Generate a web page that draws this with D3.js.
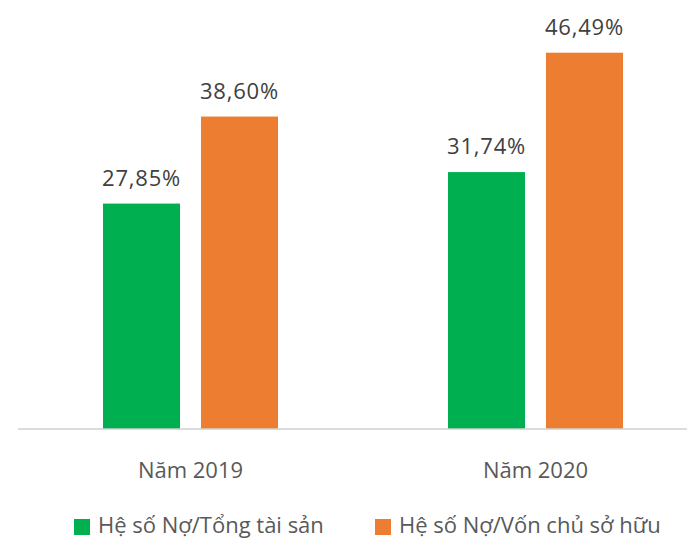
<!DOCTYPE html>
<html>
<head>
<meta charset="utf-8">
<script src="https://cdn.jsdelivr.net/npm/d3@7"></script>
<style>
  body { margin: 0; background: #fff; }
  text { font-family: "Open Sans", sans-serif; }
</style>
</head>
<body>
<script>
const years = ['Năm 2019', 'Năm 2020']
const series = ['Hệ số Nợ/Tổng tài sản', 'Hệ số Nợ/Vốn chủ sở hữu']
const debtToAssets = [27.85, 31.74]
const debtToEquity = [38.60, 46.49]
const colors = ['#00B050', '#ED7D31']

const width = 687, height = 540
const baseY = 429

const svg = d3.select('body')
  .append('svg')
  .attr('width', width)
  .attr('height', height)

const x0 = d3.scaleBand().domain(years).range([18, 708])
const x1 = d3.scaleBand().domain(series).range([0, 175]).paddingInner(0.214)
const y = d3.scaleLinear().domain([0, 53]).range([baseY, 0])
const color = d3.scaleOrdinal().domain(series).range(colors)

const rows = years.map((yr, i) => ({
  year: yr,
  values: [
    {key: series[0], value: debtToAssets[i]},
    {key: series[1], value: debtToEquity[i]}
  ]
}))

const fmt = v => v.toFixed(2).replace('.', ',') + '%'

const groups = svg.selectAll('.group')
  .data(rows)
  .enter().append('g')
    .attr('class', 'group')
    .attr('transform', d => 'translate(' + (x0(d.year) + x0.bandwidth() / 2 - 87.5) + ',0)')

groups.selectAll('rect')
  .data(d => d.values)
  .enter().append('rect')
    .attr('x', d => x1(d.key))
    .attr('y', d => y(d.value))
    .attr('width', x1.bandwidth())
    .attr('height', d => baseY - y(d.value))
    .attr('fill', d => color(d.key))

groups.selectAll('.label')
  .data(d => d.values)
  .enter().append('text')
    .attr('class', 'label')
    .attr('x', d => x1(d.key) + x1.bandwidth() / 2)
    .attr('y', d => y(d.value) - 18)
    .attr('text-anchor', 'middle')
    .attr('font-size', 22)
    .attr('letter-spacing', 0.8)
    .attr('fill', '#404040')
    .text(d => fmt(d.value))

// axis line along zero
svg.append('line')
  .attr('x1', 18).attr('x2', width)
  .attr('y1', y(0)).attr('y2', y(0))
  .attr('stroke', '#d0d0d0')
  .attr('stroke-width', 1.5)

svg.selectAll('.cat')
  .data(years)
  .enter().append('text')
    .attr('class', 'cat')
    .attr('x', d => x0(d) + x0.bandwidth() / 2)
    .attr('y', 478)
    .attr('text-anchor', 'middle')
    .attr('font-size', 22)
    .attr('fill', '#595959')
    .text(d => d)

const legendX = [74, 375]
const legend = svg.selectAll('.legend')
  .data(series)
  .enter().append('g')
    .attr('class', 'legend')
    .attr('transform', (d, i) => 'translate(' + legendX[i] + ',519)')

legend.append('rect')
  .attr('width', 16).attr('height', 16)
  .attr('fill', d => color(d))

legend.append('text')
  .attr('x', 24)
  .attr('y', 14)
  .attr('font-size', 22)
  .attr('fill', '#595959')
  .text(d => d)
</script>
</body>
</html>
